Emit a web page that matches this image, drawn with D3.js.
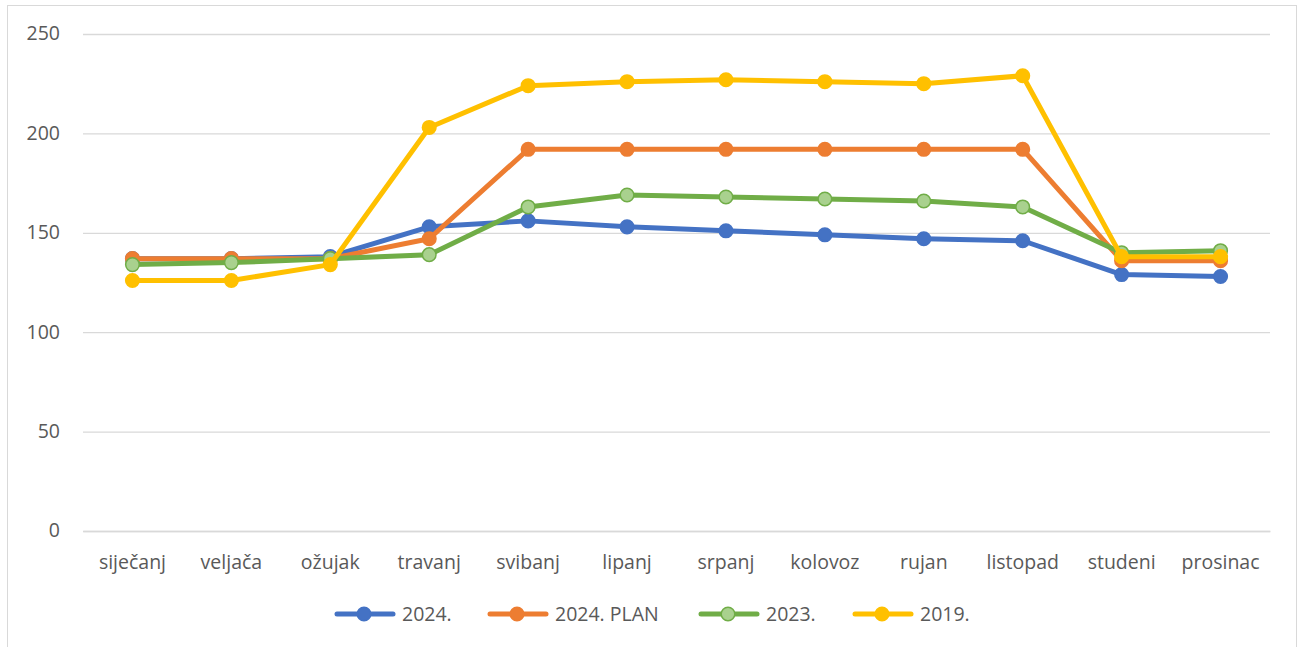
<!DOCTYPE html>
<html>
<head>
<meta charset="utf-8">
<script src="https://cdn.jsdelivr.net/npm/d3@7"></script>
<style>
  body { margin: 0; background: #fff; }
  svg { display: block; font-family: "Open Sans", "Noto Sans", sans-serif; }
</style>
</head>
<body>
<svg width="1299" height="647"></svg>
<script>
// months
var months = ["siječanj", "veljača", "ožujak", "travanj", "svibanj", "lipanj",
  "srpanj", "kolovoz", "rujan", "listopad", "studeni", "prosinac"];

// series values
var v2024 = [137, 137, 138, 153, 156, 153, 151, 149, 147, 146, 129, 128];
var v2024plan = [137, 137, 137, 147, 192, 192, 192, 192, 192, 192, 136, 136];
var v2023 = [134, 135, 137, 139, 163, 169, 168, 167, 166, 163, 140, 141];
var v2019 = [126, 126, 134, 203, 224, 226, 227, 226, 225, 229, 138, 138];

var seriesNames = ["2024.", "2024. PLAN", "2023.", "2019."];
var yTicks = [0, 50, 100, 150, 200, 250];

var series = [
  { name: seriesNames[0], values: v2024, color: "#4472C4", fill: "#4472C4" },
  { name: seriesNames[1], values: v2024plan, color: "#ED7D31", fill: "#ED7D31" },
  { name: seriesNames[2], values: v2023, color: "#70AD47", fill: "#A9D18E" },
  { name: seriesNames[3], values: v2019, color: "#FFC000", fill: "#FFC000" }
];

var svg = d3.select("svg");

// chart border
svg.append("rect")
  .attr("x", 7.5).attr("y", 5.5)
  .attr("width", 1289).attr("height", 660)
  .attr("fill", "none").attr("stroke", "#d9d9d9").attr("stroke-width", 1);

var margin = { top: 34, left: 83, right: 29, bottom: 116 };
var plotWidth = 1299 - margin.left - margin.right;
var plotHeight = 647 - margin.top - margin.bottom;

var plot = svg.append("g")
  .attr("transform", "translate(" + margin.left + "," + margin.top + ")");

var xScale = d3.scaleBand().domain(months).range([0, plotWidth]);
var yScale = d3.scaleLinear().domain([0, 250]).range([plotHeight, 0]);

// gridlines + y labels
var yAxis = d3.axisLeft(yScale).tickValues(yTicks).tickSize(-plotWidth).tickPadding(23);
var yGroup = plot.append("g").call(yAxis);
yGroup.select(".domain").remove();
yGroup.selectAll("line").attr("stroke", "#d9d9d9").attr("stroke-width", 1.3);
yGroup.selectAll("text").attr("fill", "#595959").style("font-size", "19.5px")
  .attr("font-family", "Open Sans, sans-serif").attr("dy", "0.3em");

// x labels
var xAxis = d3.axisBottom(xScale).tickSize(0).tickPadding(24);
var xGroup = plot.append("g").attr("transform", "translate(0," + plotHeight + ")").call(xAxis);
xGroup.select(".domain").attr("stroke", "#d9d9d9").attr("stroke-width", 1.3);
xGroup.selectAll("text").attr("fill", "#595959").style("font-size", "19.5px")
  .attr("font-family", "Open Sans, sans-serif");

var line = d3.line()
  .x(function(d, i) { return xScale(months[i]) + xScale.bandwidth() / 2; })
  .y(function(d) { return yScale(d); });

series.forEach(function(s) {
  plot.append("path")
    .datum(s.values)
    .attr("d", line)
    .attr("fill", "none")
    .attr("stroke", s.color)
    .attr("stroke-width", 5)
    .attr("stroke-linejoin", "round")
    .attr("stroke-linecap", "round");

  plot.selectAll(null)
    .data(s.values)
    .enter().append("circle")
    .attr("cx", function(d, i) { return xScale(months[i]) + xScale.bandwidth() / 2; })
    .attr("cy", function(d) { return yScale(d); })
    .attr("r", 6.8)
    .attr("fill", s.fill)
    .attr("stroke", s.color)
    .attr("stroke-width", 1.5);
});

// legend
var legendX = [337, 490, 701, 855];
var legend = svg.append("g").attr("transform", "translate(0,614)");
series.forEach(function(s, i) {
  var g = legend.append("g").attr("transform", "translate(" + legendX[i] + ",0)");
  g.append("line").attr("x1", 0).attr("x2", 56).attr("y1", 0).attr("y2", 0)
    .attr("stroke", s.color).attr("stroke-width", 5).attr("stroke-linecap", "round");
  g.append("circle").attr("cx", 27).attr("cy", 0).attr("r", 6.8)
    .attr("fill", s.fill).attr("stroke", s.color).attr("stroke-width", 1.5);
  g.append("text").attr("x", 65).attr("y", 0).attr("dy", "0.35em")
    .attr("fill", "#595959").style("font-size", "19.5px")
    .text(s.name);
});
</script>
</body>
</html>
